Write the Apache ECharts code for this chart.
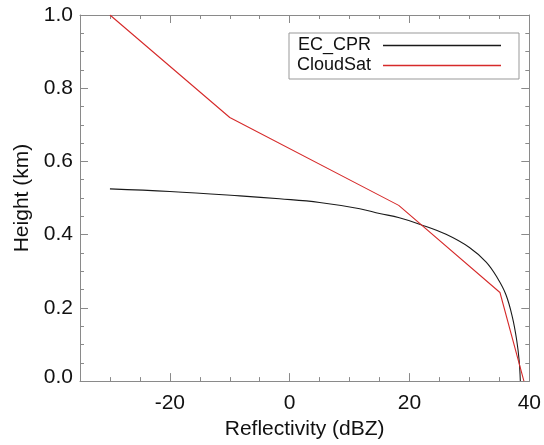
<!DOCTYPE html>
<html>
<head>
<meta charset="utf-8">
<script src="https://cdn.jsdelivr.net/npm/echarts@6/dist/echarts.min.js"></script>
<style>
  html, body { margin: 0; padding: 0; background: #fff; }
  #chart { width: 544px; height: 445px; }
</style>
</head>
<body>
<div id="chart"></div>
<script>
// EC_CPR profile (reflectivity dBZ vs height km)
var ecX = [-30, -20, -8.3, -1.7, 5, 11.7, 15, 18.3, 21.8, 26.1, 30, 32.8, 34.7, 36.1, 37.2, 37.9, 38.3, 38.5];
var ecH = [0.525, 0.518, 0.506, 0.498, 0.488, 0.471, 0.458, 0.446, 0.428, 0.401, 0.365, 0.325, 0.281, 0.236, 0.173, 0.111, 0.057, 0.0];
// CloudSat profile
var csX = [-30, -10, 18.2, 35.1, 39.1];
var csH = [1.0, 0.72, 0.48, 0.242, 0.0];
// tick labels
var xLabels = [-20, 0, 20, 40];

var font = 'Liberation Sans, Arial, Helvetica, sans-serif';
var axisCol = '#8a8a8a';
var ecCol = '#1a1a1a';
var csCol = '#d62a2a';
var fs = 21;

function zip(xs, ys) {
    return xs.map(function (x, i) { return [x, ys[i]]; });
}

var myChart = echarts.init(document.getElementById('chart'));

// extra axes that only draw ticks
function tickAxis(pos, len, custom) {
    var a = {
        type: 'value', position: pos, min: -35, max: 40, interval: 5,
        axisLine: { show: false, onZero: false },
        axisTick: { show: true, inside: true, length: len, lineStyle: { color: axisCol } },
        axisLabel: { show: false },
        splitLine: { show: false }
    };
    if (custom) a.axisTick.customValues = custom;
    return a;
}

var option = {
    animation: false,
    backgroundColor: '#fff',
    grid: { left: 80, right: 14, top: 15, bottom: 57 },
    legend: {
        left: 289, top: 33,
        orient: 'vertical',
        align: 'right',
        padding: [3, 18, 4, 2],
        itemGap: 1,
        itemWidth: 118,
        itemHeight: 1.3,
        icon: 'rect',
        borderColor: '#999',
        borderWidth: 1,
        textStyle: { fontFamily: font, fontSize: 18, color: '#111', width: 80, padding: [0, 7, 0, 0], lineHeight: 19 },
        data: [
            { name: 'EC_CPR', itemStyle: { color: ecCol } },
            { name: 'CloudSat', itemStyle: { color: csCol } }
        ]
    },
    xAxis: [
        {
            type: 'value', position: 'bottom', min: -35, max: 40, interval: 5,
            name: 'Reflectivity (dBZ)', nameLocation: 'middle', nameGap: 32,
            nameTextStyle: { fontFamily: font, fontSize: fs, color: '#111' },
            axisLine: { show: true, onZero: false, lineStyle: { color: axisCol } },
            axisTick: { show: true, inside: true, length: 4, lineStyle: { color: axisCol } },
            axisLabel: {
                customValues: xLabels, margin: 12,
                fontFamily: font, fontSize: fs, color: '#111',
                showMaxLabel: true
            },
            splitLine: { show: false }
        },
        tickAxis('bottom', 8, xLabels),
        {
            type: 'value', position: 'top', min: -35, max: 40, interval: 5,
            axisLine: { show: true, onZero: false, lineStyle: { color: axisCol } },
            axisTick: { show: true, inside: true, length: 4, lineStyle: { color: axisCol } },
            axisLabel: { show: false },
            splitLine: { show: false }
        },
        tickAxis('top', 8, xLabels)
    ],
    yAxis: [
        {
            type: 'value', position: 'left', min: 0, max: 1, interval: 0.2,
            name: 'Height (km)', nameLocation: 'middle', nameGap: 47,
            nameTextStyle: { fontFamily: font, fontSize: fs, color: '#111' },
            axisLine: { show: true, onZero: false, lineStyle: { color: axisCol } },
            axisTick: { show: true, inside: true, length: 8, lineStyle: { color: axisCol } },
            minorTick: { show: true, splitNumber: 4, length: 4, lineStyle: { color: axisCol } },
            axisLabel: {
                margin: 7, fontFamily: font, fontSize: fs, color: '#111',
                formatter: function (v) {
                    return v === 0 ? '{z|0.0}' : v.toFixed(1);
                },
                rich: { z: { fontFamily: font, fontSize: fs, color: '#111', padding: [0, 0, 8, 0] } }
            },
            splitLine: { show: false }
        },
        {
            type: 'value', position: 'right', min: 0, max: 1, interval: 0.2,
            axisLine: { show: true, onZero: false, lineStyle: { color: axisCol } },
            axisTick: { show: true, inside: true, length: 8, lineStyle: { color: axisCol } },
            minorTick: { show: true, splitNumber: 4, length: 4, lineStyle: { color: axisCol } },
            axisLabel: { show: false },
            splitLine: { show: false }
        }
    ],
    series: [
        {
            name: 'EC_CPR', type: 'line', xAxisIndex: 0, yAxisIndex: 0,
            data: zip(ecX, ecH),
            smooth: 0.4, symbol: 'none',
            lineStyle: { color: ecCol, width: 1.1 },
            itemStyle: { color: ecCol }
        },
        {
            name: 'CloudSat', type: 'line', xAxisIndex: 0, yAxisIndex: 0,
            data: zip(csX, csH),
            symbol: 'none',
            lineStyle: { color: csCol, width: 1.1 },
            itemStyle: { color: csCol }
        }
    ]
};

myChart.setOption(option);
</script>
</body>
</html>
